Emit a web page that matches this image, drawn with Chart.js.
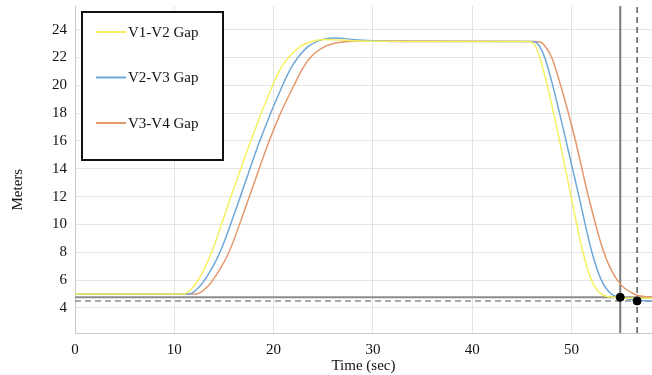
<!DOCTYPE html>
<html>
<head>
<meta charset="utf-8">
<script src="https://cdn.jsdelivr.net/npm/chart.js@4.4.0/dist/chart.umd.min.js"></script>
<style>
  body { margin: 0; background: #fff; }
  canvas { display: block; }
</style>
</head>
<body>
<canvas id="gapChart" width="652" height="375"></canvas>
<script>
// Chart values
const gap12Time = [0, 10.9, 11.9, 12.8, 13.75, 15.7, 17.7, 19.9, 20.8, 21.5, 22.7, 23.8, 25.3, 28, 35, 45.5, 46.0, 46.45, 46.8, 47.55, 48.8, 49.95, 51.15, 52.0, 53.0, 54.3, 56, 58.1];
const gap12Meters = [5, 5, 5.5, 6.5, 8, 12, 16, 20, 21.3, 22.0, 22.8, 23.15, 23.3, 23.2, 23.15, 23.15, 23.1, 22.7, 22.0, 20, 16, 12, 8, 6, 5, 4.77, 4.7, 4.7];

const gap23Time = [0, 11.5, 12.5, 13.5, 14.6, 16.65, 18.6, 20.9, 21.8, 22.45, 23.5, 25, 26.3, 28.5, 32, 45.8, 46.4, 46.85, 47.3, 48.1, 49.45, 50.75, 52.05, 53.0, 54.0, 54.9, 56.5, 58.1];
const gap23Meters = [5, 5, 5.5, 6.5, 8, 12, 16, 20, 21.3, 22.0, 22.8, 23.3, 23.4, 23.25, 23.15, 23.15, 23.1, 22.7, 22.0, 20, 16, 12, 8, 6, 5, 4.77, 4.55, 4.5];

const gap34Time = [0, 12.2, 13.3, 14.35, 15.5, 17.55, 19.55, 20.7, 22.05, 23.0, 23.7, 25.2, 27.5, 30, 46.2, 46.9, 47.45, 48.0, 48.9, 50.4, 51.7, 53.25, 54.6, 56.3, 57.8, 58.1];
const gap34Meters = [5, 5, 5.5, 6.5, 8, 12, 16, 18, 20, 21.3, 22.0, 22.8, 23.15, 23.2, 23.15, 23.1, 22.7, 22.0, 20, 16, 12, 8, 6, 5, 4.78, 4.77];

const seriesNames = ['V1-V2 Gap', 'V2-V3 Gap', 'V3-V4 Gap'];
const seriesColors = ['#f6f060', '#6ea8d8', '#e3996c'];

// reference marks
const refLevels = [4.77, 4.5];      // solid, dashed
const refTimes = [54.9, 56.6];      // solid, dashed

const timeTicks = [0, 10, 20, 30, 40, 50];
const meterTicks = [4, 6, 8, 10, 12, 14, 16, 18, 20, 22, 24];
const timeMin = 0, timeMax = 58.1;
const meterMin = 2.2, meterMax = 25.7;
const yTitle = 'Meters';

const serif = "'Liberation Serif', 'Times New Roman', serif";

function pairs(xs, ys) {
  return xs.map((x, i) => ({ x: x, y: ys[i] }));
}

function curve(i, xs, ys) {
  return {
    label: seriesNames[i],
    data: pairs(xs, ys),
    borderColor: seriesColors[i],
    borderWidth: 1.5,
    pointRadius: 0,
    cubicInterpolationMode: 'monotone',
    showInLegend: true,
    order: 2
  };
}

function refLine(data, color, width, dash) {
  return {
    data: data,
    borderColor: color,
    borderWidth: width,
    borderDash: dash,
    pointRadius: 0,
    order: 3
  };
}

// legend box drawn inside the plot, plus the y title (sits a bit below centre in the original)
const boxLegend = {
  id: 'boxLegend',
  afterDraw(chart) {
    const c = chart.ctx;
    const left = 82, top = 12, w = 141, h = 148;
    c.save();
    c.fillStyle = '#fff';
    c.fillRect(left, top, w, h);
    c.strokeStyle = '#111';
    c.lineWidth = 2;
    c.strokeRect(left, top, w, h);
    c.font = '15px ' + serif;
    c.textBaseline = 'middle';
    const items = chart.data.datasets.filter(d => d.showInLegend);
    items.forEach((d, i) => {
      const y = top + 20 + i * 45.5;
      c.strokeStyle = d.borderColor;
      c.lineWidth = 2;
      c.beginPath();
      c.moveTo(left + 14, y);
      c.lineTo(left + 44, y);
      c.stroke();
      c.fillStyle = '#111';
      c.fillText(d.label, left + 46, y + 1);
    });

    // y axis title
    c.translate(18, chart.scales.y.getPixelForValue(12.5));
    c.rotate(-Math.PI / 2);
    c.textAlign = 'center';
    c.fillText(yTitle, 0, 0);
    c.restore();
  }
};

const ctx = document.getElementById('gapChart');

new Chart(ctx, {
  type: 'line',
  data: {
    datasets: [
      curve(0, gap12Time, gap12Meters),
      curve(1, gap23Time, gap23Meters),
      curve(2, gap34Time, gap34Meters),
      refLine([{ x: timeMin, y: refLevels[0] }, { x: timeMax, y: refLevels[0] }], '#8c8c8c', 2, []),
      refLine([{ x: timeMin, y: refLevels[1] }, { x: timeMax, y: refLevels[1] }], '#555', 1, [6, 4]),
      refLine([{ x: refTimes[0], y: meterMin }, { x: refTimes[0], y: meterMax }], '#7a7a7a', 2, []),
      refLine([{ x: refTimes[1], y: meterMin }, { x: refTimes[1], y: meterMax }], '#333', 1.2, [6, 4]),
      {
        type: 'scatter',
        data: [{ x: refTimes[0], y: refLevels[0] }, { x: refTimes[1], y: refLevels[1] }],
        pointRadius: 4,
        pointBackgroundColor: '#000',
        pointBorderColor: '#000',
        order: 0
      }
    ]
  },
  options: {
    responsive: false,
    devicePixelRatio: 1,
    animation: false,
    layout: { autoPadding: false, padding: { top: 6, right: 0, left: 0, bottom: 0 } },
    plugins: {
      legend: { display: false },
      tooltip: { enabled: false }
    },
    scales: {
      x: {
        type: 'linear',
        min: timeMin,
        max: timeMax,
        afterBuildTicks: s => { s.ticks = timeTicks.map(v => ({ value: v })); },
        afterFit: s => { s.height = 42; s.paddingRight = 0; s.paddingLeft = 0; },
        grid: { color: '#e4e4e4', drawTicks: false },
        border: { color: '#c8c8c8' },
        ticks: { padding: 8, color: '#111', font: { family: serif, size: 15 }, maxRotation: 0 },
        title: { display: true, text: 'Time (sec)', color: '#111', font: { family: serif, size: 15 }, padding: { top: 0, bottom: 0 } }
      },
      y: {
        min: meterMin,
        max: meterMax,
        afterBuildTicks: s => { s.ticks = meterTicks.map(v => ({ value: v })); },
        afterFit: s => { s.width = 75; s.paddingTop = 0; s.paddingBottom = 0; },
        grid: { color: '#e4e4e4', drawTicks: false },
        border: { color: '#c8c8c8' },
        ticks: { padding: 8, color: '#111', font: { family: serif, size: 15 } }
      }
    }
  },
  plugins: [boxLegend]
});
</script>
</body>
</html>
